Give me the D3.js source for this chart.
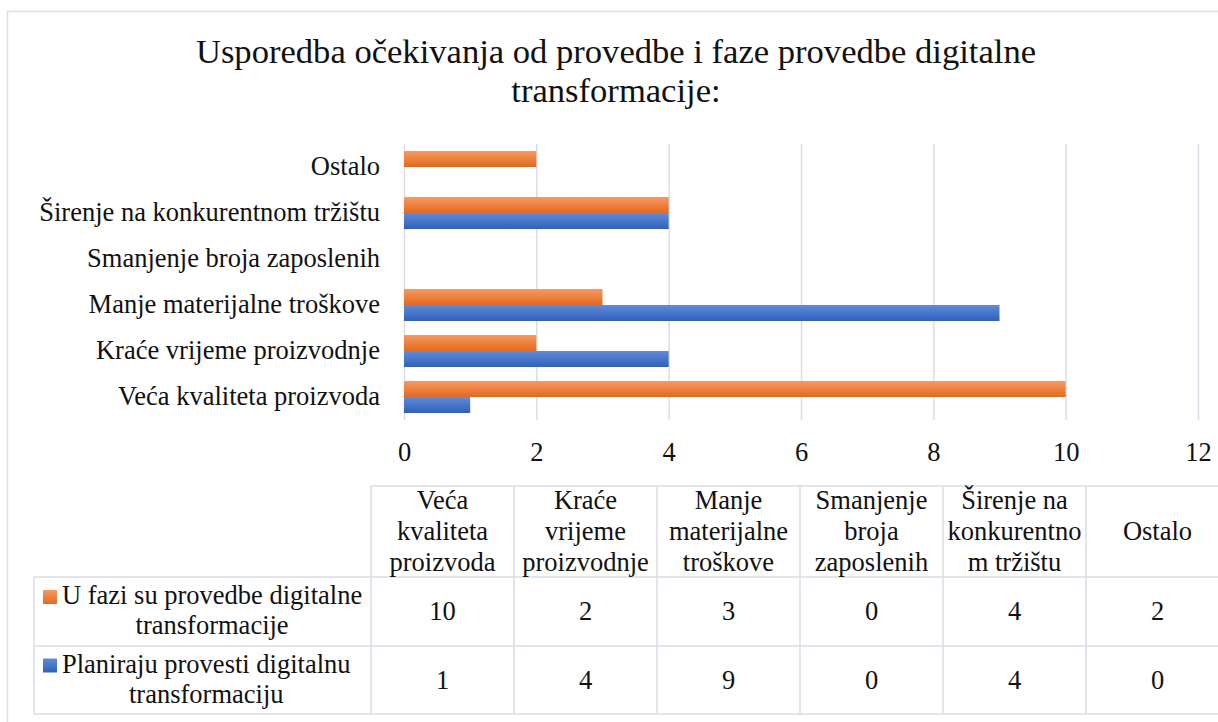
<!DOCTYPE html>
<html>
<head>
<meta charset="utf-8">
<script src="https://cdn.jsdelivr.net/npm/d3@7"></script>
<style>
  body { margin: 0; background: #fff; }
</style>
</head>
<body>
<div id="chart-area"></div>
<script>
// categories in table order (bottom-to-top in the bar chart)
var categories = ["Veća kvaliteta proizvoda", "Kraće vrijeme proizvodnje", "Manje materijalne troškove",
  "Smanjenje broja zaposlenih", "Širenje na konkurentnom tržištu", "Ostalo"];
var headerLines = [
  ["Veća", "kvaliteta", "proizvoda"],
  ["Kraće", "vrijeme", "proizvodnje"],
  ["Manje", "materijalne", "troškove"],
  ["Smanjenje", "broja", "zaposlenih"],
  ["Širenje na", "konkurentno", "m tržištu"],
  ["Ostalo"]
];
var seriesLines = [
  ["U fazi su provedbe digitalne", "transformacije"],
  ["Planiraju provesti digitalnu", "transformaciju"]
];
var uFazi = [10, 2, 3, 0, 4, 2];
var planiraju = [1, 4, 9, 0, 4, 0];
var xTicks = [0, 2, 4, 6, 8, 10, 12];
var titleLines = ["Usporedba očekivanja od provedbe i faze provedbe digitalne", "transformacije:"];

var W = 1218, H = 722;
var FONT = "'Liberation Serif', 'Times New Roman', serif";
var FS = "26.5px";
var svg = d3.select("#chart-area").append("svg")
  .attr("width", W).attr("height", H)
  .style("font-family", FONT);

// gradients
var defs = svg.append("defs");
function grad(id, top, bottom) {
  var lg = defs.append("linearGradient").attr("id", id)
    .attr("x1", 0).attr("y1", 0).attr("x2", 0).attr("y2", 1);
  lg.append("stop").attr("offset", "0%").attr("stop-color", top);
  lg.append("stop").attr("offset", "100%").attr("stop-color", bottom);
}
grad("gOrange", "#F39A63", "#E5691C");
grad("gBlue", "#628BD6", "#2E61BC");
var fills = ["url(#gOrange)", "url(#gBlue)"];

var lineColor = "#D9DEE6";

// chart border
svg.append("rect")
  .attr("x", 7.5).attr("y", 11.5)
  .attr("width", 1230).attr("height", 730)
  .attr("fill", "none").attr("stroke", lineColor).attr("stroke-width", 1.5);

// title
svg.append("g").selectAll("text").data(titleLines).enter()
  .append("text")
  .attr("x", 616)
  .attr("y", (d, i) => 63 + i * 38.5)
  .attr("text-anchor", "middle")
  .style("font-size", "34.6px")
  .attr("fill", "#111")
  .text(d => d);

// SCALES
var x = d3.scaleLinear().domain([0, 12]).range([404, 1198]);
var y = d3.scaleBand().domain(categories).range([420, 144])
  .paddingInner(14 / 46).paddingOuter(7 / 46);
var ySub = d3.scaleBand().domain([0, 1]).range([0, y.bandwidth()]);

// X axis + gridlines
var xAxis = svg.append("g")
  .attr("transform", "translate(0,420)")
  .call(d3.axisBottom(x).tickValues(xTicks).tickSize(-276).tickFormat(d3.format("d")));
xAxis.attr("font-family", null).attr("font-size", null);
xAxis.select(".domain").remove();
xAxis.selectAll("line").attr("stroke", lineColor).attr("stroke-width", 1.5);
xAxis.selectAll("text")
  .attr("y", 40.5).attr("dy", null)
  .style("font-size", FS).attr("fill", "#111");

// Y axis
var yAxis = svg.append("g")
  .attr("transform", "translate(404,0)")
  .call(d3.axisLeft(y).tickSize(0).tickPadding(24));
yAxis.attr("font-family", null).attr("font-size", null);
yAxis.select(".domain").remove();
yAxis.selectAll("text")
  .style("font-size", FS).attr("fill", "#111");

// bars
var seriesVals = [uFazi, planiraju];
seriesVals.forEach((vals, s) => {
  svg.append("g").selectAll("rect").data(vals).enter()
    .append("rect")
    .attr("x", x(0))
    .attr("y", (d, i) => y(categories[i]) + ySub(s))
    .attr("width", d => x(d) - x(0))
    .attr("height", ySub.bandwidth())
    .attr("fill", fills[s]);
});

// DATA TABLE
var col = d3.scaleBand().domain(categories).range([371, 371 + 6 * 143]);
var rowTop = [486, 577, 646, 714];
var t = svg.append("g").style("font-size", FS).attr("fill", "#111");

function hline(x1, x2, yy) {
  t.append("line").attr("x1", x1).attr("x2", x2).attr("y1", yy).attr("y2", yy)
    .attr("stroke", lineColor).attr("stroke-width", 1.5);
}
function vline(xx, y1, y2) {
  t.append("line").attr("x1", xx).attr("x2", xx).attr("y1", y1).attr("y2", y2)
    .attr("stroke", lineColor).attr("stroke-width", 1.5);
}
hline(371, W, rowTop[0]);
hline(34, W, rowTop[1]);
hline(34, W, rowTop[2]);
hline(34, W, rowTop[3]);
vline(34, rowTop[1], rowTop[3]);
categories.forEach(c => vline(col(c), rowTop[0], rowTop[3]));

// header text
var headerCenter = (rowTop[0] + rowTop[1]) / 2;
categories.forEach((c, i) => {
  var lines = headerLines[i];
  lines.forEach((ln, j) => {
    t.append("text")
      .attr("x", col(c) + col.bandwidth() / 2)
      .attr("y", headerCenter + (j - (lines.length - 1) / 2) * 31 + 8.5)
      .attr("text-anchor", "middle")
      .text(ln);
  });
});

// series rows
seriesVals.forEach((vals, s) => {
  var cy = (rowTop[s + 1] + rowTop[s + 2]) / 2;
  t.append("rect")
    .attr("x", 43).attr("y", cy - 21.5)
    .attr("width", 14).attr("height", 14)
    .attr("fill", fills[s]);
  var first = t.append("text")
    .attr("x", 62).attr("y", cy - 15 + 7.5)
    .text(seriesLines[s][0]);
  var w1 = first.node().getComputedTextLength();
  t.append("text")
    .attr("x", 62 + w1 / 2).attr("y", cy + 15 + 7.5)
    .attr("text-anchor", "middle")
    .text(seriesLines[s][1]);
  vals.forEach((v, i) => {
    t.append("text")
      .attr("x", col(categories[i]) + col.bandwidth() / 2)
      .attr("y", cy + 8.5)
      .attr("text-anchor", "middle")
      .text(v);
  });
});
</script>
</body>
</html>
